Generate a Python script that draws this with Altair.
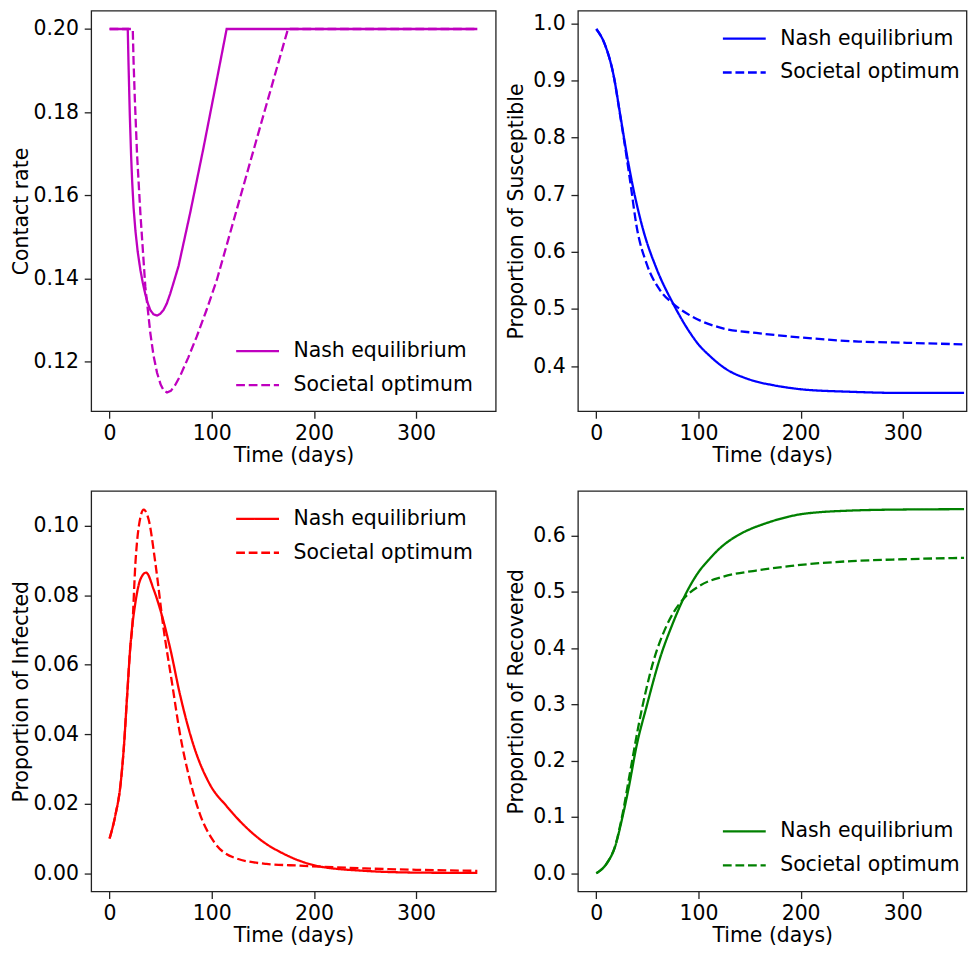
import altair as alt
import pandas as pd

FONT = "DejaVu Sans"
FS = 20.5
SERIES = ["Nash equilibrium", "Societal optimum"]

# ---- Contact rate ----
t_cr_nash = [0, 17.8, 18.5, 19.8, 21.0, 22.1, 23.5, 25.3, 27.5, 30.2, 32.5, 35.0, 37.5, 39.9, 43.0, 46.4,
             49.5, 52.9, 56.0, 59.4, 63.0, 67.5, 78.9, 91.9, 103.3, 114.6, 200, 300, 360]
cr_nash = [0.20, 0.20, 0.1920, 0.1793, 0.1700, 0.1634, 0.1570, 0.1515, 0.1465, 0.1420, 0.1390, 0.1362, 0.1340,
           0.1324, 0.1314, 0.1311, 0.1315, 0.1325, 0.1340, 0.1364, 0.1393, 0.1430, 0.1558, 0.1714, 0.1857,
           0.20, 0.20, 0.20, 0.20]
t_cr_soc = [0, 22.7, 23.5, 24.7, 26.9, 30.2, 35.0, 39.9, 43.0, 46.4, 50.0, 53.0, 56.2, 60.0, 64.0, 69.1,
            77.0, 85.4, 95.0, 104.9, 127.6, 150.3, 174.6, 200, 300, 360]
cr_soc = [0.20, 0.20, 0.1920, 0.1833, 0.1698, 0.1555, 0.1380, 0.1269, 0.1215, 0.1174, 0.1145, 0.1131, 0.1126,
          0.1130, 0.1143, 0.1166, 0.1210, 0.1261, 0.1325, 0.1396, 0.1593, 0.1790, 0.20, 0.20, 0.20, 0.20]

# ---- Susceptible ----
t_s_nash = [0, 8.8, 16.9, 23.4, 29.9, 36.3, 46.1, 59.1, 75.3, 91.5, 100, 111, 120, 130.5, 143, 156.5, 172,
            188.9, 200, 250, 300, 360]
s_nash = [0.990, 0.961, 0.909, 0.840, 0.770, 0.710, 0.637, 0.570, 0.509, 0.459, 0.438, 0.418, 0.404, 0.391,
          0.381, 0.373, 0.367, 0.362, 0.3595, 0.355, 0.353, 0.353]
t_s_soc = [0, 8.8, 16.9, 23.4, 26.6, 33.1, 39.6, 49.3, 62.3, 75.3, 91.5, 124, 156.5, 188.9, 257, 300, 360]
s_soc = [0.990, 0.961, 0.909, 0.838, 0.802, 0.724, 0.643, 0.579, 0.533, 0.509, 0.489, 0.466, 0.458, 0.452,
         0.443, 0.441, 0.438]

# ---- Infected ----
t_i_nash = [0, 5.8, 10.7, 13.9, 17.2, 20.4, 25.3, 30.2, 35.7, 43.1, 51.3, 59.4, 69.1, 82.1, 98.3, 114.6,
            134.1, 153.6, 166.5, 186, 205, 250, 300, 360]
i_nash = [0.010, 0.0169, 0.0255, 0.036, 0.0512, 0.0655, 0.0779, 0.0846, 0.0865, 0.0817, 0.0741, 0.0646,
          0.0512, 0.0369, 0.0255, 0.0193, 0.0131, 0.0084, 0.0062, 0.0036, 0.0020, 0.0007, 0.0002, 0.0001]
t_i_soc = [0, 5.8, 10.7, 13.9, 17.2, 20.4, 22.1, 25.3, 28.6, 33.4, 38.3, 44.8, 52.9, 61, 69.1, 78.9, 88.6,
           101.6, 121, 153.6, 186, 250, 300, 360]
i_soc = [0.010, 0.0169, 0.0255, 0.036, 0.0512, 0.0655, 0.0703, 0.0893, 0.0998, 0.1046, 0.1017, 0.0893,
         0.0703, 0.055, 0.0398, 0.0265, 0.0169, 0.0093, 0.0046, 0.0027, 0.0022, 0.0014, 0.0010, 0.0007]

# ---- Recovered ----
t_r_nash = [0, 10.4, 18.5, 25, 31.5, 39.6, 49.3, 62.3, 75.3, 84, 91.5, 100, 111, 120, 137, 150, 162.9,
            188.9, 200, 250, 300, 360]
r_nash = [0.0, 0.018, 0.048, 0.095, 0.150, 0.228, 0.297, 0.382, 0.446, 0.483, 0.510, 0.535, 0.559, 0.576,
          0.599, 0.611, 0.620, 0.634, 0.638, 0.6446, 0.6464, 0.647]
t_r_soc = [0, 10.4, 18.5, 25, 33.1, 42.8, 55.8, 68.8, 85, 101.3, 124, 156.5, 188.9, 200, 250, 300, 360]
r_soc = [0.0, 0.018, 0.049, 0.099, 0.180, 0.276, 0.376, 0.440, 0.487, 0.511, 0.527, 0.538, 0.5458, 0.548,
         0.5548, 0.558, 0.5605]


def make_df(t1, v1, t2, v2):
    a = pd.DataFrame({"t": t1, "v": v1, "series": SERIES[0]})
    b = pd.DataFrame({"t": t2, "v": v2, "series": SERIES[1]})
    return pd.concat([a, b], ignore_index=True)


H = 402


def panel(df, color, ytitle, ydomain, yticks, yfmt, xmax, width, lx, ly, tpad, interp):
    return alt.Chart(df).mark_line(
        color=color, strokeWidth=2.3, interpolate=interp, clip=True
    ).encode(
        x=alt.X("t:Q",
                scale=alt.Scale(domain=[-18, xmax], nice=False, zero=False),
                axis=alt.Axis(values=[0, 100, 200, 300], format="d", title="Time (days)",
                              titlePadding=1.5, labelPadding=5)),
        y=alt.Y("v:Q",
                scale=alt.Scale(domain=ydomain, nice=False, zero=False),
                axis=alt.Axis(values=yticks, format=yfmt, title=ytitle,
                              titlePadding=tpad, labelPadding=5.7)),
        strokeDash=alt.StrokeDash(
            "series:N",
            scale=alt.Scale(domain=SERIES, range=[[1, 0], [8.8, 3.8]]),
            legend=alt.Legend(title=None, orient="none", legendX=lx, legendY=ly,
                              symbolType="stroke", symbolSize=1849,
                              symbolStrokeColor=color, symbolStrokeWidth=2.3,
                              labelFont=FONT, labelFontSize=FS, labelColor="black",
                              labelLimit=400, labelOffset=13, rowPadding=-16, padding=0),
        ),
        order=alt.Order("t:Q"),
    ).properties(width=width, height=H)


W_L, W_R = 406, 390
XMAX_L = 378
XMAX_R = -18 + W_R / (406 / 396)

tl = panel(make_df(t_cr_nash, cr_nash, t_cr_soc, cr_soc), "#bf00bf", "Contact rate",
           [0.1081, 0.2044], [0.12, 0.14, 0.16, 0.18, 0.20], ".2f", XMAX_L, W_L, 144, 318.7, 1.7, "linear")
tr = panel(make_df(t_s_nash, s_nash, t_s_soc, s_soc), "#0000ff", "Proportion of Susceptible",
           [0.321, 1.022], [0.4, 0.5, 0.6, 0.7, 0.8, 0.9, 1.0], ".1f", XMAX_R, W_R, 144, 5, 6.4, "monotone")
bl = panel(make_df(t_i_nash, i_nash, t_i_soc, i_soc), "#ff0000", "Proportion of Infected",
           [-0.00524, 0.1100], [0.0, 0.02, 0.04, 0.06, 0.08, 0.10], ".2f", XMAX_L, W_L, 144, 5, 1.7, "monotone")
br = panel(make_df(t_r_nash, r_nash, t_r_soc, r_soc), "#008000", "Proportion of Recovered",
           [-0.0324, 0.6794], [0.0, 0.1, 0.2, 0.3, 0.4, 0.5, 0.6], ".1f", XMAX_R, W_R, 144, 318.7, 6.4, "monotone")

chart = alt.concat(tl, tr, bl, br, columns=2, spacing={"row": 23, "column": 8.5}).resolve_scale(
    x="independent", y="independent", strokeDash="independent"
).resolve_legend(strokeDash="independent").configure_view(
    stroke="#222222", strokeWidth=1.3
).configure_axis(
    domain=False, grid=False, tickColor="#222222", tickSize=7, tickWidth=1.3,
    labelFont=FONT, labelFontSize=FS, labelColor="black",
    titleFont=FONT, titleFontSize=FS, titleColor="black", titleFontWeight="normal",
).properties(
    padding={"left": 2.5, "top": 0, "right": 0, "bottom": 0}, background="white"
)

chart.save("out.html", embed_options={"renderer": "svg", "actions": False})
